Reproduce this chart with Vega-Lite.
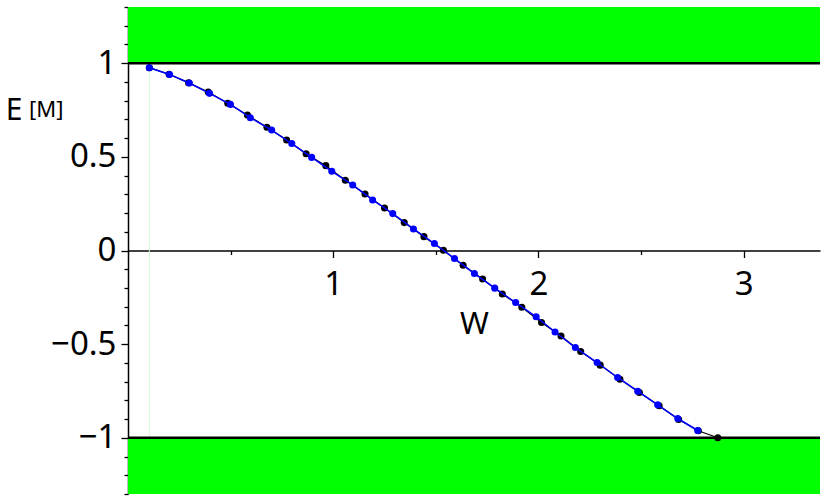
{
  "$schema": "https://vega.github.io/schema/vega-lite/v6.json",
  "width": 692,
  "height": 487,
  "autosize": {"type": "none"},
  "padding": {"left": 128, "top": 7, "right": 10, "bottom": 7},
  "background": "white",
  "config": {"view": {"stroke": null}, "font": "Noto Sans"},
  "title": {
    "text": "[M]",
    "fontSize": 22,
    "fontWeight": "normal",
    "color": "black",
    "anchor": "start",
    "frame": "group",
    "orient": "top",
    "offset": 0,
    "dx": -99,
    "dy": 147.5,
    "baseline": "alphabetic"
  },
  "datasets": {
    "bands": [{"y": 1, "y2": 1.3}, {"y": -1.3, "y2": -1}],
    "hlines": [{"y": 1}, {"y": -1}],
    "vlines": [{"x": 0.104}],
    "blue": [
      {"x": 0.104, "y": 0.976}, {"x": 0.202, "y": 0.940}, {"x": 0.299, "y": 0.894}, {"x": 0.397, "y": 0.839},
      {"x": 0.499, "y": 0.780}, {"x": 0.596, "y": 0.709}, {"x": 0.700, "y": 0.643}, {"x": 0.798, "y": 0.571},
      {"x": 0.895, "y": 0.497}, {"x": 0.993, "y": 0.423}, {"x": 1.095, "y": 0.350}, {"x": 1.192, "y": 0.270},
      {"x": 1.290, "y": 0.197}, {"x": 1.391, "y": 0.115}, {"x": 1.493, "y": 0.037}, {"x": 1.591, "y": -0.043},
      {"x": 1.688, "y": -0.123}, {"x": 1.787, "y": -0.201}, {"x": 1.889, "y": -0.278}, {"x": 1.989, "y": -0.354},
      {"x": 2.081, "y": -0.435}, {"x": 2.180, "y": -0.518}, {"x": 2.286, "y": -0.598}, {"x": 2.386, "y": -0.678},
      {"x": 2.484, "y": -0.751}, {"x": 2.581, "y": -0.824}, {"x": 2.679, "y": -0.897}, {"x": 2.776, "y": -0.961}
    ],
    "black": [
      {"x": 0.104, "y": 0.976}, {"x": 0.200, "y": 0.941}, {"x": 0.295, "y": 0.895}, {"x": 0.391, "y": 0.846},
      {"x": 0.486, "y": 0.786}, {"x": 0.582, "y": 0.723}, {"x": 0.677, "y": 0.658}, {"x": 0.773, "y": 0.590},
      {"x": 0.868, "y": 0.517}, {"x": 0.964, "y": 0.453}, {"x": 1.059, "y": 0.375}, {"x": 1.155, "y": 0.302},
      {"x": 1.250, "y": 0.227}, {"x": 1.346, "y": 0.149}, {"x": 1.442, "y": 0.074}, {"x": 1.537, "y": 0.001},
      {"x": 1.633, "y": -0.079}, {"x": 1.728, "y": -0.152}, {"x": 1.824, "y": -0.232}, {"x": 1.919, "y": -0.303},
      {"x": 2.015, "y": -0.384}, {"x": 2.110, "y": -0.456}, {"x": 2.206, "y": -0.539}, {"x": 2.301, "y": -0.612},
      {"x": 2.397, "y": -0.687}, {"x": 2.492, "y": -0.758}, {"x": 2.588, "y": -0.829}, {"x": 2.683, "y": -0.902},
      {"x": 2.779, "y": -0.962}, {"x": 2.874, "y": -1.0}
    ]
  },
  "layer": [
    {
      "data": {"name": "vlines"},
      "mark": {"type": "rule", "color": "#d6f7d6", "strokeWidth": 1},
      "encoding": {
        "x": {
          "field": "x", "type": "quantitative",
          "scale": {"domain": [0, 3.372], "nice": false, "zero": false},
          "axis": {
            "values": [0.5, 1, 1.5, 2, 2.5, 3],
            "tickCount": 40,
            "offset": -243.5,
            "domainColor": "black", "domainWidth": 1.5,
            "tickColor": "black", "tickWidth": 1.3,
            "tickSize": {"condition": {"test": "datum.value % 1 === 0", "value": 7}, "value": 4},
            "labelExpr": "datum.value % 1 === 0 ? format(datum.value, '') : ''",
            "labelFontSize": 33, "labelColor": "black", "labelPadding": 11,
            "labelOverlap": false, "labelBound": false, "labelFlush": false,
            "grid": false,
            "title": "W", "titleFontSize": 31, "titleFontWeight": "normal", "titleColor": "black",
            "titleX": 346, "titleY": 83, "titleBaseline": "alphabetic", "titleAlign": "center"
          }
        }
      }
    },
    {
      "data": {"name": "bands"},
      "mark": {"type": "rect", "color": "#00ff00", "opacity": 1},
      "encoding": {
        "y": {
          "field": "y", "type": "quantitative",
          "scale": {"domain": [-1.3, 1.3], "nice": false, "zero": false},
          "axis": {
            "values": [-1.3, -1.2, -1.1, -1, -0.9, -0.8, -0.7, -0.6, -0.5, -0.4, -0.3, -0.2, -0.1, 0, 0.1, 0.2, 0.3, 0.4, 0.5, 0.6, 0.7, 0.8, 0.9, 1, 1.1, 1.2, 1.3],
            "tickCount": 40,
            "domainColor": "black", "domainWidth": 1.5,
            "tickColor": "black", "tickWidth": 1.3,
            "tickSize": {"condition": {"test": "abs(datum.value * 2 - round(datum.value * 2)) < 0.000001", "value": 7}, "value": 4},
            "labelExpr": "abs(datum.value * 2 - round(datum.value * 2)) < 0.000001 ? (datum.value < 0 ? '−' + format(-datum.value, '') : format(datum.value, '')) : ''",
            "labelFontSize": 33, "labelColor": "black", "labelPadding": 5,
            "labelOverlap": false, "labelBound": false, "labelFlush": false,
            "grid": false,
            "title": "E", "titleFontSize": 30, "titleFontWeight": "normal", "titleColor": "black",
            "titleAngle": 0, "titleX": -114.3, "titleY": 112, "titleBaseline": "alphabetic", "titleAlign": "center"
          }
        },
        "y2": {"field": "y2"}
      }
    },
    {
      "data": {"name": "hlines"},
      "mark": {"type": "rule", "color": "black", "strokeWidth": 2.4},
      "encoding": {
        "y": {"field": "y", "type": "quantitative"}
      }
    },
    {
      "data": {"name": "black"},
      "mark": {"type": "line", "color": "black", "strokeWidth": 1.2},
      "encoding": {
        "x": {"field": "x", "type": "quantitative"},
        "y": {"field": "y", "type": "quantitative"}
      }
    },
    {
      "data": {"name": "black"},
      "mark": {"type": "point", "filled": true, "color": "black", "size": 50, "opacity": 1},
      "encoding": {
        "x": {"field": "x", "type": "quantitative"},
        "y": {"field": "y", "type": "quantitative"}
      }
    },
    {
      "data": {"name": "blue"},
      "mark": {"type": "line", "color": "#0000ff", "strokeWidth": 1.5},
      "encoding": {
        "x": {"field": "x", "type": "quantitative"},
        "y": {"field": "y", "type": "quantitative"}
      }
    },
    {
      "data": {"name": "blue"},
      "mark": {"type": "point", "filled": true, "color": "#0000ff", "size": 50, "opacity": 1},
      "encoding": {
        "x": {"field": "x", "type": "quantitative"},
        "y": {"field": "y", "type": "quantitative"}
      }
    }
  ]
}
